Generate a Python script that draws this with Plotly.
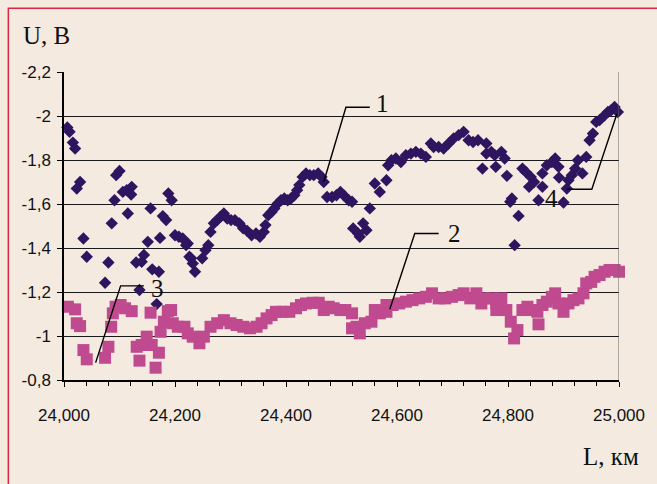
import plotly.graph_objects as go

# Curve 1: potential, diamonds (L in km, U in V)
L1 = [24006, 24010, 24016, 24020, 24029, 24023, 24035, 24041, 24074, 24080,
      24086, 24091, 24094, 24100, 24106, 24113, 24115, 24122, 24121, 24130,
      24136, 24140, 24144, 24151, 24156, 24159, 24167, 24171, 24173, 24178,
      24184, 24188, 24194, 24200, 24207, 24214, 24220, 24226, 24232, 24236,
      24223, 24229, 24249, 24255, 24260, 24264, 24270, 24276, 24282, 24288,
      24294, 24301, 24308, 24316, 24323, 24330, 24338, 24346, 24353, 24360,
      24363, 24368, 24374, 24379, 24385, 24391, 24397, 24403, 24409, 24415,
      24420, 24424, 24430, 24436, 24443, 24450, 24458, 24464, 24468, 24474,
      24483, 24491, 24498, 24504, 24513, 24519, 24551, 24539, 24521, 24530,
      24533, 24545, 24560, 24569, 24581, 24584, 24590, 24598, 24607, 24616,
      24625, 24634, 24643, 24652, 24661, 24666, 24675, 24684, 24693, 24702,
      24711, 24720, 24729, 24737, 24746, 24761, 24761, 24770, 24776, 24788,
      24794, 24754, 24778, 24798, 24807, 24804, 24819, 24812, 24826, 24832,
      24841, 24838, 24847, 24855, 24862, 24862, 24870, 24879, 24885, 24891,
      24892, 24900, 24906, 24909, 24915, 24921, 24926, 24934, 24941, 24947,
      24953, 24959, 24965, 24974, 24980, 24986, 24992, 24998]
U1 = [-1.948, -1.928, -1.879, -1.852, -1.700, -1.670, -1.443, -1.360, -1.242, -1.334,
      -1.512, -1.617, -1.731, -1.750, -1.655, -1.663, -1.557, -1.678, -1.643, -1.334,
      -1.209, -1.337, -1.368, -1.428, -1.580, -1.303, -1.145, -1.292, -1.446, -1.545,
      -1.527, -1.648, -1.617, -1.458, -1.451, -1.443, -1.413, -1.360, -1.330, -1.292,
      -1.421, -1.353, -1.353, -1.390, -1.413, -1.473, -1.512, -1.527, -1.542, -1.557,
      -1.534, -1.527, -1.527, -1.512, -1.489, -1.478, -1.458, -1.466, -1.451, -1.473,
      -1.504, -1.549, -1.564, -1.580, -1.602, -1.617, -1.625, -1.617, -1.625, -1.640,
      -1.663, -1.686, -1.723, -1.739, -1.731, -1.731, -1.739, -1.723, -1.700, -1.632,
      -1.632, -1.640, -1.655, -1.640, -1.617, -1.610, -1.580, -1.512, -1.489, -1.466,
      -1.451, -1.481, -1.693, -1.655, -1.708, -1.776, -1.799, -1.807, -1.791, -1.822,
      -1.829, -1.837, -1.829, -1.814, -1.875, -1.859, -1.859, -1.852, -1.875, -1.898,
      -1.913, -1.928, -1.890, -1.882, -1.890, -1.875, -1.829, -1.837, -1.822, -1.837,
      -1.807, -1.761, -1.769, -1.728, -1.625, -1.610, -1.546, -1.413, -1.761, -1.746,
      -1.723, -1.678, -1.700, -1.617, -1.678, -1.739, -1.776, -1.791, -1.807, -1.769,
      -1.720, -1.607, -1.670, -1.708, -1.731, -1.761, -1.799, -1.739, -1.814, -1.890,
      -1.920, -1.973, -1.981, -2.003, -2.018, -2.026, -2.041, -2.018]

# Curve 2: potential, squares
L2 = [24007, 24020, 24023, 24029, 24035, 24041, 24074, 24080, 24085, 24093,
      24088, 24102, 24110, 24122, 24131, 24136, 24140, 24149, 24156, 24158,
      24165, 24171, 24174, 24180, 24187, 24193, 24196, 24205, 24217, 24223,
      24232, 24244, 24252, 24264, 24276, 24288, 24300, 24311, 24323, 24335,
      24347, 24356, 24365, 24374, 24382, 24394, 24406, 24418, 24427, 24436,
      24448, 24459, 24468, 24477, 24486, 24498, 24507, 24519, 24519, 24527,
      24533, 24542, 24554, 24560, 24569, 24581, 24581, 24592, 24604, 24616,
      24628, 24640, 24652, 24663, 24675, 24687, 24699, 24711, 24720, 24732,
      24743, 24752, 24758, 24770, 24779, 24779, 24788, 24797, 24805, 24817,
      24811, 24826, 24835, 24844, 24853, 24855, 24862, 24870, 24879, 24885,
      24891, 24900, 24909, 24918, 24927, 24936, 24941, 24950, 24956, 24965,
      24974, 24983, 24992, 25000]
U2 = [-1.133, -1.121, -1.058, -1.045, -0.936, -0.894, -0.901, -0.951, -1.042, -1.133,
      -1.103, -1.141, -1.126, -1.113, -0.951, -0.888, -0.959, -0.997, -1.106, -0.959,
      -0.856, -0.924, -1.019, -1.065, -1.113, -1.118, -1.058, -1.042, -1.042, -1.012,
      -0.997, -0.967, -0.997, -1.042, -1.058, -1.072, -1.058, -1.050, -1.042, -1.035,
      -1.042, -1.058, -1.080, -1.095, -1.110, -1.110, -1.110, -1.126, -1.141, -1.148,
      -1.151, -1.151, -1.118, -1.133, -1.126, -1.118, -1.118, -1.103, -1.035, -1.042,
      -1.012, -1.058, -1.065, -1.118, -1.103, -1.141, -1.110, -1.141, -1.148, -1.156,
      -1.163, -1.171, -1.178, -1.194, -1.171, -1.171, -1.178, -1.186, -1.194, -1.171,
      -1.194, -1.148, -1.171, -1.171, -1.148, -1.118, -1.171, -1.118, -1.065, -1.027,
      -0.989, -1.118, -1.133, -1.118, -1.110, -1.053, -1.141, -1.156, -1.178, -1.194,
      -1.148, -1.110, -1.148, -1.163, -1.171, -1.194, -1.239, -1.246, -1.269, -1.277,
      -1.292, -1.300, -1.300, -1.292]

# Axis ticks
x_ticks = [24000, 24200, 24400, 24600, 24800, 25000]
x_labels = ["24,000", "24,200", "24,400", "24,600", "24,800", "25,000"]
y_ticks = [-2.2, -2.0, -1.8, -1.6, -1.4, -1.2, -1.0, -0.8]
y_labels = ["-2,2", "-2", "-1,8", "-1,6", "-1,4", "-1,2", "-1", "-0,8"]

# Callout labels: text, leader-line polyline (L, U), label position
callouts = [
    ("1", [24468, 24508, 24551], [-1.700, -2.040, -2.040], 24574, -2.055),
    ("2", [24587, 24632, 24675], [-1.122, -1.466, -1.466], 24703, -1.466),
    ("3", [24057, 24102, 24144], [-0.879, -1.228, -1.228], 24168, -1.215),
    ("4", [24996, 24951, 24906], [-2.008, -1.667, -1.667], 24878, -1.626),
]

BG = "#F4EADF"
PURPLE = "#2F1560"
PINK = "#C04A8F"
SERIF = "Liberation Serif, Times New Roman, serif"
SANS = "Liberation Sans, Arial, sans-serif"

fig = go.Figure()
fig.add_trace(go.Scatter(
    x=L1, y=U1, mode="markers", cliponaxis=False,
    marker=dict(symbol="diamond", size=9.5, color=PURPLE, line=dict(width=0)),
))
fig.add_trace(go.Scatter(
    x=L2, y=U2, mode="markers", cliponaxis=False,
    marker=dict(symbol="square", size=12, color=PINK, line=dict(width=0)),
))

for text, lx, ly, tx, ty in callouts:
    fig.add_trace(go.Scatter(
        x=lx, y=ly, mode="lines", cliponaxis=False,
        line=dict(color="black", width=1.4),
    ))
    fig.add_annotation(x=tx, y=ty, xref="x", yref="y", text=text,
                       showarrow=False, xanchor="center", yanchor="middle",
                       font=dict(family=SERIF, size=25, color="#111"))

# right edge of the plot frame
fig.add_shape(type="line", xref="x", yref="paper", x0=25000, x1=25000,
              y0=0, y1=1, line=dict(color="#666", width=1))
# red frame around the figure
fig.add_shape(type="rect", xref="paper", yref="paper",
              x0=-0.1003, x1=2.0, y0=-2.0, y1=1.2066,
              line=dict(color="#D9283F", width=1.5), layer="above")

fig.add_annotation(x=-0.032, y=1.118, xref="paper", yref="paper", text="U, В",
                   showarrow=False, xanchor="center", yanchor="middle",
                   font=dict(family=SERIF, size=25, color="#111"))
fig.add_annotation(x=0.986, y=-0.247, xref="paper", yref="paper", text="L, км",
                   showarrow=False, xanchor="center", yanchor="middle",
                   font=dict(family=SERIF, size=25, color="#111"))

fig.update_layout(
    width=657, height=484,
    margin=dict(l=64, r=29, t=72, b=104),
    paper_bgcolor=BG, plot_bgcolor=BG,
    showlegend=False,
    xaxis=dict(
        range=[24000, 25000], tickmode="array", tickvals=x_ticks, ticktext=x_labels,
        showgrid=False, zeroline=False,
        showline=True, linecolor="black", linewidth=2,
        ticks="outside", ticklen=5, tickwidth=1, tickcolor="black",
        ticklabelstandoff=14,
        tickfont=dict(family=SANS, size=17, color="#111"),
        minor=dict(tickmode="linear", tick0=24000, dtick=40, ticks="outside",
                   ticklen=4, tickwidth=1, tickcolor="black", showgrid=False),
    ),
    yaxis=dict(
        range=[-0.8, -2.2], tickmode="array", tickvals=y_ticks, ticktext=y_labels,
        showgrid=True, gridcolor="#1a1a1a", gridwidth=1, zeroline=False,
        showline=True, linecolor="black", linewidth=1.5,
        ticks="outside", ticklen=5, tickwidth=1, tickcolor="black",
        ticklabelstandoff=3,
        tickfont=dict(family=SANS, size=17, color="#111"),
    ),
)

fig.write_html("out.html")
